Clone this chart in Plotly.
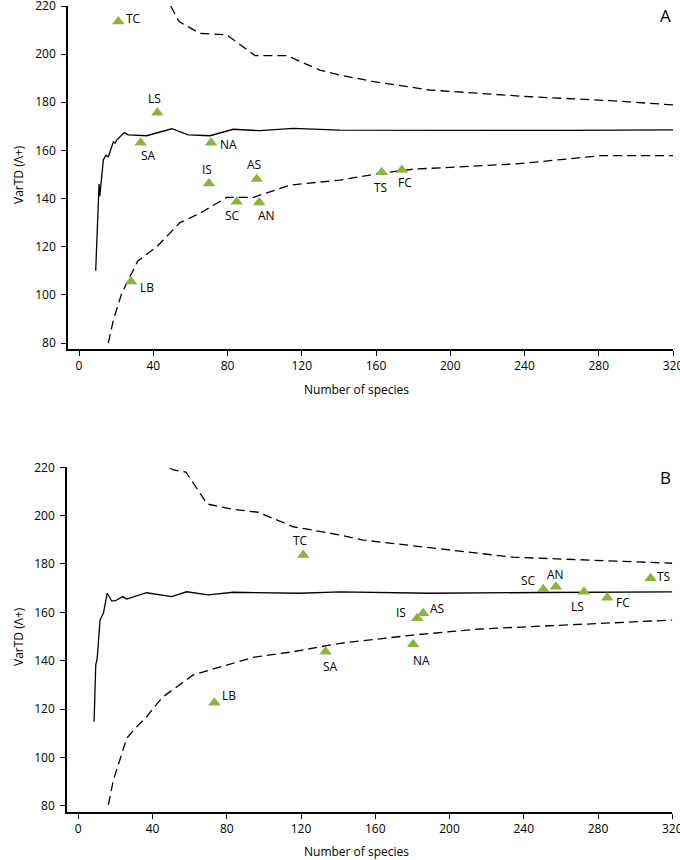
import plotly.graph_objects as go

# ---------------- Panel A data ----------------
a_mean_x = [9, 10.8, 11.2, 13.1, 14.5, 15.8, 18.5, 19.4, 20.3, 23, 24.4, 26.6, 36.4, 50, 58.9, 70.6, 83.1, 97.5, 115.5, 140.6, 200, 260, 320]
a_mean_y = [110, 146, 141, 156, 158, 157.4, 163.6, 163, 164.3, 166.4, 167.4, 166.5, 166.1, 169, 166.5, 166.1, 168.8, 168.2, 169.2, 168.4, 168.3, 168.3, 168.5]
a_upper_x = [49.4, 53.9, 65.2, 79.6, 94.8, 111.9, 129.8, 140.6, 158.6, 189, 243, 286, 320]
a_upper_y = [220, 213.5, 208.6, 208, 199.4, 199.4, 193.4, 191.3, 188.6, 185.1, 182.3, 180.7, 178.9]
a_lower_x = [15.8, 18.5, 23, 31.6, 41.9, 54.4, 65.2, 79.6, 93.9, 113.7, 140.6, 162, 180, 235.8, 280.7, 320]
a_lower_y = [80, 89.5, 100.6, 114, 120, 130, 133.9, 140.5, 140.5, 145.6, 147.7, 150.5, 152.2, 154.4, 157.8, 157.8]
a_sites = ["TC", "LS", "SA", "NA", "IS", "AS", "SC", "AN", "LB", "TS", "FC"]
a_site_x = [21.2, 42.2, 33.2, 71.1, 70, 95.7, 85, 97.1, 28, 163.1, 173.9]
a_site_y = [213.6, 175.7, 163.2, 163.2, 146.3, 148.1, 138.7, 138.4, 105.5, 150.9, 151.9]

# ---------------- Panel B data ----------------
b_mean_x = [8.5, 9.4, 10.2, 11.7, 13.5, 15.6, 18, 19.8, 23.9, 26.1, 36.8, 50.3, 58.4, 70, 83.5, 119.4, 141, 189.4, 250, 320]
b_mean_y = [114.7, 138.2, 141, 156.8, 159.6, 167.9, 164.7, 164.7, 166.5, 165.5, 168.1, 166.5, 168.5, 167.2, 168.3, 167.9, 168.5, 167.9, 168.2, 168.5]
b_upper_x = [49.4, 51.2, 58, 69.5, 83.5, 96.9, 115.8, 141, 153.5, 234.3, 320]
b_upper_y = [219.6, 218.9, 218, 204.8, 202.6, 201.4, 195.4, 192, 189.9, 182.8, 180.3]
b_lower_x = [16.2, 18.9, 26.1, 31.5, 36.8, 45.2, 61.9, 79.9, 94.3, 115.8, 141, 180.4, 216.4, 320]
b_lower_y = [80.3, 90.6, 107.9, 112.7, 116.8, 124.8, 134.1, 138.2, 141.4, 143.7, 147.2, 150.6, 153.1, 156.8]
b_sites = ["TC", "LB", "SA", "NA", "IS", "AS", "SC", "AN", "LS", "FC", "TS"]
b_site_x = [121.2, 73.3, 133.2, 180.4, 182.6, 185.8, 250.5, 257.3, 272.4, 285, 308.3]
b_site_y = [183.7, 122.6, 143.7, 146.8, 157.5, 159.6, 169.5, 170.6, 168.5, 166, 174.1]

x_ticks = [0, 40, 80, 120, 160, 200, 240, 280, 320]
y_ticks = [80, 100, 120, 140, 160, 180, 200, 220]
x_min, x_max = 0, 320
y_min, y_max = 80, 220

# label offsets in pixels (style only)
a_label_off = [(15, -3), (-3, -14), (8, 13), (18, 2), (-2, -14), (-3, -15), (-4, 14), (7, 13), (16, 6), (-1, 15), (3, 13)]
b_label_off = [(-3, -15), (15, -7), (5, 15), (8, 16), (-16, -6), (14, -5), (-15, -9), (0, -12), (-6, 15), (16, 5), (13, -2)]

W, H = 680, 860
FONT = "Open Sans"
GREEN = "#8CB43C"


def px(v):
    return v / W


def py(v):
    return 1 - v / H


fig = go.Figure()

geom = {
    "A": dict(x0=79, x1=673, yl=68, ytop=6, ybot=343, xl=349),
    "B": dict(x0=78.3, x1=672.3, yl=67, ytop=467.3, ybot=805.7, xl=812.3),
}

panels = [
    dict(key="A", xa="x", ya="y", mx=a_mean_x, my=a_mean_y, ux=a_upper_x, uy=a_upper_y,
         lx=a_lower_x, ly=a_lower_y, sx=a_site_x, sy=a_site_y, names=a_sites, off=a_label_off),
    dict(key="B", xa="x2", ya="y2", mx=b_mean_x, my=b_mean_y, ux=b_upper_x, uy=b_upper_y,
         lx=b_lower_x, ly=b_lower_y, sx=b_site_x, sy=b_site_y, names=b_sites, off=b_label_off),
]

tickfont = dict(family=FONT, size=12, color="black")
dash = "9px,5px"
layout_axes = {}

for p in panels:
    g = geom[p["key"]]
    xs = (g["x1"] - g["x0"]) / (x_max - x_min)
    ys = (g["ybot"] - g["ytop"]) / (y_max - y_min)
    xr0 = x_min - (g["x0"] - g["yl"]) / xs
    yr0 = y_min - (g["xl"] - g["ybot"]) / ys
    xdom = [px(g["yl"]), px(g["x1"])]
    ydom = [py(g["xl"]), py(g["ytop"])]
    xname = "xaxis" if p["xa"] == "x" else "xaxis" + p["xa"][1:]
    yname = "yaxis" if p["ya"] == "y" else "yaxis" + p["ya"][1:]
    layout_axes[xname] = dict(domain=xdom, range=[xr0, x_max], anchor=p["ya"], showline=True,
                              linecolor="black", linewidth=1.5, ticks="outside", ticklen=5, tickcolor="black",
                              tickvals=x_ticks, showgrid=False, automargin=False, ticklabeloverflow="allow",
                              tickfont=tickfont)
    layout_axes[yname] = dict(domain=ydom, range=[yr0, y_max], anchor=p["xa"], showline=True,
                              linecolor="black", linewidth=1.5, ticks="outside", ticklen=5, tickcolor="black",
                              tickvals=y_ticks, showgrid=False, automargin=False, ticklabeloverflow="allow",
                              tickfont=tickfont, ticklabelstandoff=3)

    fig.add_trace(go.Scatter(x=p["mx"], y=p["my"], mode="lines", line=dict(color="black", width=1.3),
                             xaxis=p["xa"], yaxis=p["ya"], showlegend=False))
    fig.add_trace(go.Scatter(x=p["ux"], y=p["uy"], mode="lines", line=dict(color="black", width=1.3, dash=dash),
                             xaxis=p["xa"], yaxis=p["ya"], showlegend=False))
    fig.add_trace(go.Scatter(x=p["lx"], y=p["ly"], mode="lines", line=dict(color="black", width=1.3, dash=dash),
                             xaxis=p["xa"], yaxis=p["ya"], showlegend=False))
    fig.add_trace(go.Scatter(x=p["sx"], y=p["sy"], mode="markers",
                             marker=dict(symbol="triangle-up", size=11, color=GREEN),
                             xaxis=p["xa"], yaxis=p["ya"], showlegend=False))
    for name, xv, yv, (dx, dy) in zip(p["names"], p["sx"], p["sy"], p["off"]):
        fig.add_annotation(x=xv, y=yv, xref=p["xa"], yref=p["ya"], text=name, showarrow=False,
                           xanchor="center", yanchor="middle",
                           xshift=dx, yshift=-dy, font=dict(family=FONT, size=12, color="black"))

fig.update_layout(
    width=W, height=H, margin=dict(l=0, r=0, t=0, b=0),
    plot_bgcolor="white",
    showlegend=False, **layout_axes,
)

for (tx, ty) in [(356, 390), (356, 851)]:
    fig.add_annotation(x=px(tx), y=py(ty), xref="paper", yref="paper", text="Number of species",
                       xanchor="center", yanchor="middle",
                       showarrow=False, font=dict(family=FONT, size=12, color="black"))
for (tx, ty) in [(18, 175), (18, 637)]:
    fig.add_annotation(x=px(tx), y=py(ty), xref="paper", yref="paper", text="VarTD (Λ+)", textangle=-90,
                       xanchor="center", yanchor="middle",
                       showarrow=False, font=dict(family=FONT, size=12, color="black"))
for (lab, tx, ty) in [("A", 665, 15), ("B", 665, 477)]:
    fig.add_annotation(x=px(tx), y=py(ty), xref="paper", yref="paper", text=lab,
                       xanchor="center", yanchor="middle",
                       showarrow=False, font=dict(family=FONT, size=17, color="black"))

fig.write_html("out.html", config={"displayModeBar": False},
               post_script="document.body.style.margin='0';document.body.style.overflow='hidden';")
